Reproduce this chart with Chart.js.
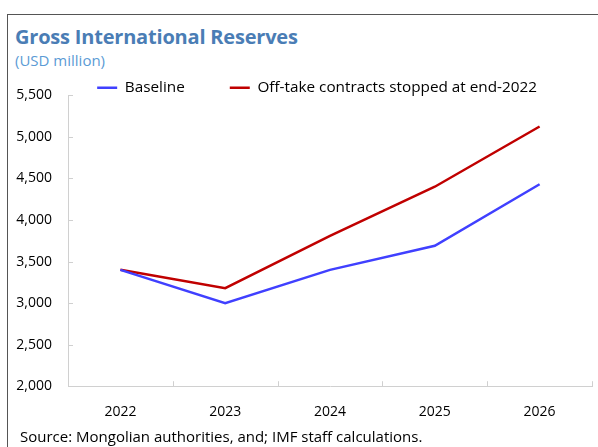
<!DOCTYPE html>
<html lang="en">
<head>
    <meta charset="UTF-8">
    <title>Gross International Reserves</title>
    <script src="https://cdn.jsdelivr.net/npm/chart.js"></script>
    <style>
        body {
            margin: 0;
            padding: 0;
            background: #ffffff;
            font-family: 'Open Sans', sans-serif;
        }
        .slide {
            position: relative;
            width: 598px;
            height: 447px;
            overflow: hidden;
        }
        .frame {
            position: absolute;
            left: 7px;
            top: 14px;
            width: 600px;
            height: 500px;
            border-top: 1px solid #555;
            border-left: 1px solid #555;
        }
        .title {
            position: absolute;
            left: 15px;
            top: 23px;
            font-size: 20px;
            font-weight: bold;
            color: #4a7db5;
            letter-spacing: -0.2px;
        }
        .subtitle {
            position: absolute;
            left: 15px;
            top: 50px;
            font-size: 15px;
            color: #5b9bd5;
        }
        .source {
            position: absolute;
            left: 20px;
            top: 426px;
            font-size: 15px;
            color: #000;
        }
        .chart-box {
            position: absolute;
            left: 0;
            top: 0;
            width: 598px;
            height: 447px;
        }
    </style>
</head>
<body>
    <div class="slide">
        <div class="frame"></div>
        <div class="title">Gross International Reserves</div>
        <div class="subtitle">(USD million)</div>
        <div class="chart-box">
            <canvas id="reservesChart"></canvas>
        </div>
        <div class="source">Source: Mongolian authorities, and; IMF staff calculations.</div>
    </div>

    <script>
        // data
        const years = ['2022', '2023', '2024', '2025', '2026'];
        const baseline = [3400, 3000, 3400, 3690, 4430];
        const offtakeStopped = [3400, 3180, 3810, 4400, 5125];
        const yMin = 2000;
        const yMax = 5500;
        const yStep = 500;

        // small inward tick marks like the original (axis drawn by the scales)
        const innerTicks = {
            id: 'innerTicks',
            afterDatasetsDraw(chart) {
                const ctx = chart.ctx;
                const x = chart.scales.x;
                const y = chart.scales.y;
                ctx.save();
                ctx.strokeStyle = '#d0d0d0';
                ctx.lineWidth = 1;
                ctx.beginPath();
                y.ticks.forEach(function(t) {
                    const py = Math.round(y.getPixelForValue(t.value)) + 0.5;
                    ctx.moveTo(x.left, py);
                    ctx.lineTo(x.left + 5, py);
                });
                for (let i = 0; i <= years.length; i++) {
                    const px = Math.round(x.getPixelForValue(i - 0.5)) + 0.5;
                    ctx.moveTo(px, y.bottom);
                    ctx.lineTo(px, y.bottom - 5);
                }
                ctx.stroke();
                ctx.restore();
            }
        };

        // legend sits closer to the plot (and a bit left) in the original
        const legendNudge = {
            id: 'legendNudge',
            afterLayout(chart) {
                chart.legend.top += 10;
                chart.legend.bottom += 10;
                chart.legend.left -= 10;
                chart.legend.right -= 10;
            }
        };

        const ctx = document.getElementById('reservesChart').getContext('2d');
        new Chart(ctx, {
            type: 'line',
            data: {
                labels: years,
                datasets: [
                    {
                        label: 'Baseline',
                        data: baseline,
                        borderColor: '#4040ff',
                        backgroundColor: '#4040ff',
                        borderWidth: 2.5,
                        pointRadius: 0,
                        tension: 0,
                        fill: false
                    },
                    {
                        label: 'Off-take contracts stopped at end-2022',
                        data: offtakeStopped,
                        borderColor: '#c00000',
                        backgroundColor: '#c00000',
                        borderWidth: 2.5,
                        pointRadius: 0,
                        tension: 0,
                        fill: false
                    }
                ]
            },
            plugins: [innerTicks, legendNudge],
            options: {
                responsive: true,
                maintainAspectRatio: false,
                animation: false,
                layout: {
                    padding: { left: 0, right: 6, top: 25, bottom: 18 }
                },
                plugins: {
                    legend: {
                        position: 'top',
                        align: 'end',
                        labels: {
                            usePointStyle: true,
                            pointStyle: 'line',
                            pointStyleWidth: 20,
                            boxHeight: 2,
                            padding: 45,
                            color: '#000',
                            font: { family: 'Open Sans', size: 15.3 }
                        }
                    },
                    tooltip: { enabled: false }
                },
                scales: {
                    x: {
                        offset: true,
                        grid: { display: false },
                        border: { display: true, color: '#d0d0d0', width: 1 },
                        ticks: {
                            color: '#000',
                            padding: 9,
                            font: { family: 'Open Sans', size: 14 }
                        }
                    },
                    y: {
                        min: yMin,
                        max: yMax,
                        afterFit: function(scale) { scale.width = 68; },
                        grid: { display: false },
                        border: { display: true, color: '#d0d0d0', width: 1 },
                        ticks: {
                            stepSize: yStep,
                            color: '#000',
                            padding: 8,
                            font: { family: 'Open Sans', size: 14 },
                            callback: function(v) { return v.toLocaleString('en-US'); }
                        }
                    }
                }
            }
        });
    </script>
</body>
</html>
